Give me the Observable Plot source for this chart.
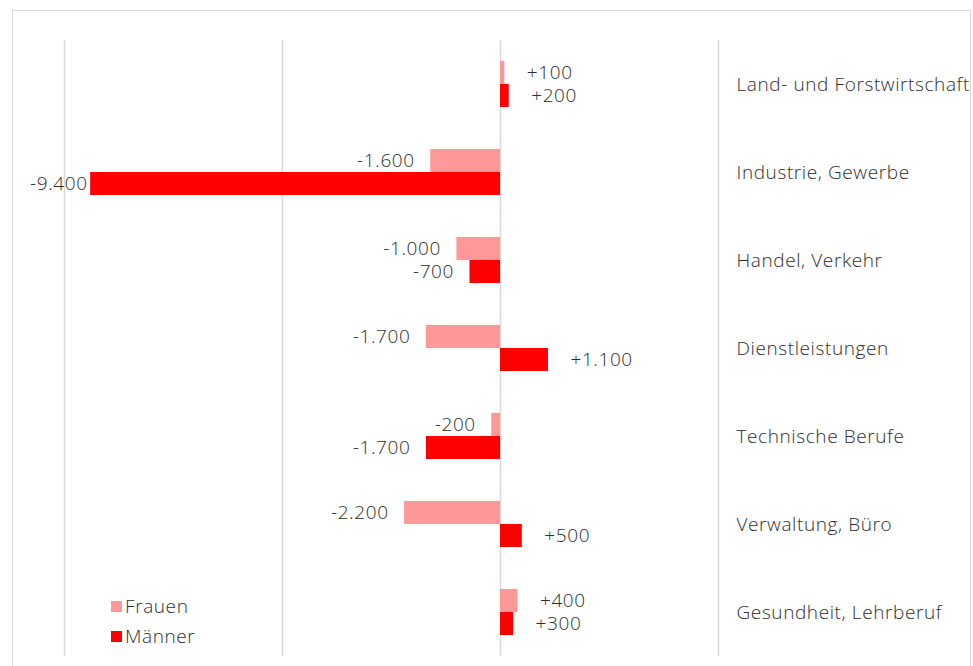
<!DOCTYPE html>
<html>
<head>
<meta charset="utf-8">
<script src="https://cdn.jsdelivr.net/npm/d3@7"></script>
<script src="https://cdn.jsdelivr.net/npm/@observablehq/plot@0.6"></script>
<style>
  html, body { margin: 0; padding: 0; background: #fff; }
  #wrap { position: relative; width: 973px; height: 666px; overflow: hidden; font-family: "Open Sans", sans-serif; font-weight: 300; color: #2e2e2e; letter-spacing: 0.6px; }
  #frame { position: absolute; left: 12px; top: 10px; width: 959px; height: 700px; border: 1.5px solid #d9d9d9; box-sizing: border-box; }
  #chart { position: absolute; left: 0; top: 0; }
  #chart svg text { letter-spacing: 0.6px; }
  #legend { position: absolute; left: 111px; top: 591px; font-size: 19px; line-height: 30px; }
  #legend .item { display: flex; align-items: center; }
  #legend .sw { width: 11px; height: 11px; margin-right: 3px; }
</style>
</head>
<body>
<div id="wrap">
  <div id="frame"></div>
  <div id="chart"></div>
  <div id="legend"></div>
</div>
<script>
const categories = [
  "Land- und Forstwirtschaft",
  "Industrie, Gewerbe",
  "Handel, Verkehr",
  "Dienstleistungen",
  "Technische Berufe",
  "Verwaltung, Büro",
  "Gesundheit, Lehrberuf"
];
const series = ["Frauen", "Männer"];
const frauen = [100, -1600, -1000, -1700, -200, -2200, 400];
const maenner = [200, -9400, -700, 1100, -1700, 500, 300];
const gridTicks = [-10000, -5000, 0, 5000];
const colors = ["#ff9999", "#ff0000"];

const data = categories.flatMap((c, i) => [
  {category: c, gender: series[0], value: frauen[i]},
  {category: c, gender: series[1], value: maenner[i]}
]);

const locale = d3.formatLocale({decimal: ",", thousands: ".", grouping: [3], currency: ["", " €"], minus: "-"});
const fmt = locale.format("+,");

const textColor = "#2e2e2e";
const fs = 19;
const common = {fy: "category", y: "gender", x: "value", text: d => fmt(d.value), fill: textColor, fontSize: fs, fontWeight: 300};

const chart = Plot.plot({
  width: 973,
  height: 666,
  marginLeft: 64,
  marginRight: 255,
  marginTop: 39,
  marginBottom: 9,
  x: {domain: [-10000, 5000], axis: null},
  y: {domain: series, axis: null, paddingInner: 0, paddingOuter: 0.895},
  fy: {domain: categories, axis: null, padding: 0},
  color: {domain: series, range: colors},
  style: {fontFamily: "'Open Sans', sans-serif", fontSize: fs + "px", background: "transparent", color: textColor},
  marks: [
    Plot.ruleX(gridTicks, {stroke: "#d9d9d9", strokeWidth: 1.5}),
    Plot.barX(data, {fy: "category", y: "gender", x1: 0, x2: "value", fill: "gender"}),
    Plot.text(data.filter(d => d.value >= 0), {...common, textAnchor: "start", dx: 22}),
    Plot.text(data.filter(d => d.value < 0 && d.value > -9000), {...common, textAnchor: "end", dx: -16}),
    Plot.text(data.filter(d => d.value <= -9000), {...common, textAnchor: "end", dx: -3}),
    Plot.text(categories, {fy: d => d, text: d => d, frameAnchor: "right", textAnchor: "start", dx: 18, fill: textColor, fontSize: fs, fontWeight: 300})
  ]
});
document.getElementById("chart").appendChild(chart);

const legend = document.getElementById("legend");
series.forEach((s, i) => {
  const item = document.createElement("div");
  item.className = "item";
  const sw = document.createElement("span");
  sw.className = "sw";
  sw.style.background = colors[i];
  const lab = document.createElement("span");
  lab.textContent = s;
  item.appendChild(sw);
  item.appendChild(lab);
  legend.appendChild(item);
});
</script>
</body>
</html>
